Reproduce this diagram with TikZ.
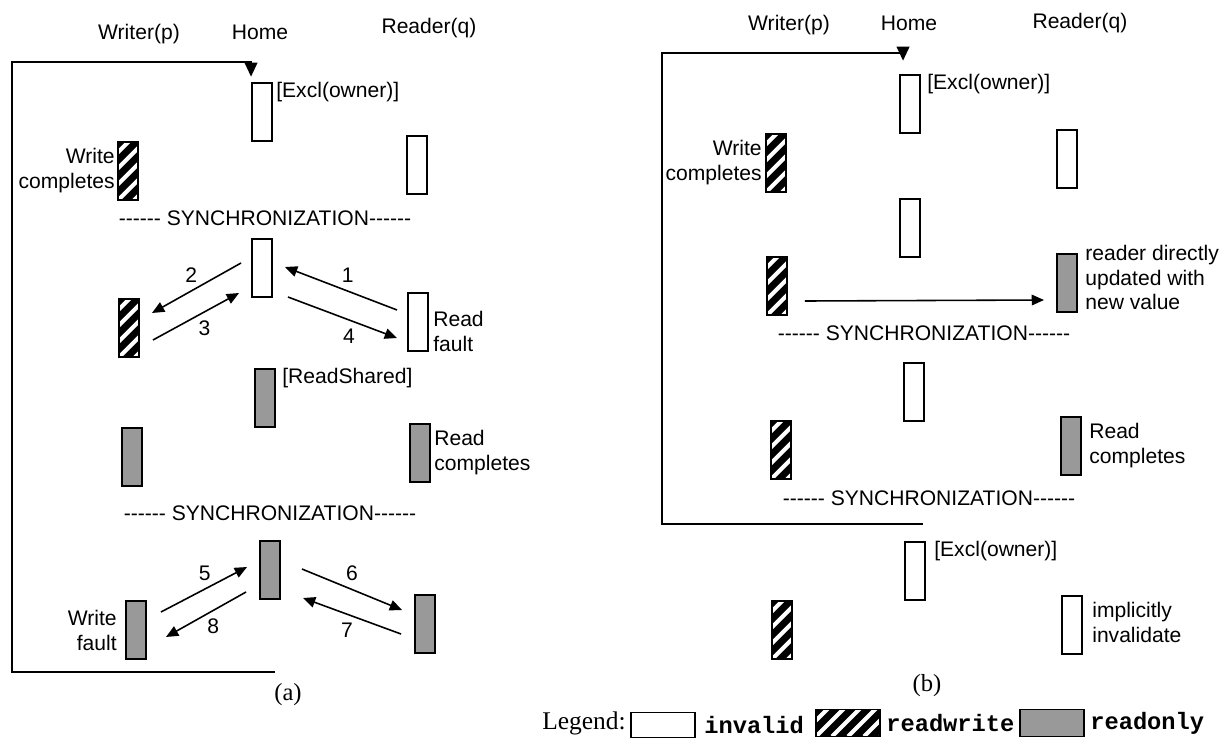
\documentclass[tikz,border=0pt]{standalone}
\usepackage{fontspec}
\setmainfont{Liberation Sans}
\newfontfamily\capfont{Liberation Serif}
\newfontfamily\keyfont{Liberation Mono}
\usetikzlibrary{calc, positioning}
\usetikzlibrary{arrows.meta}

\newcommand\dashrun{\mbox{-}\mbox{-}\mbox{-}\mbox{-}\mbox{-}\mbox{-}}

\tikzset{
  lbl/.style={font=\fontsize{12}{14.2}\selectfont, inner sep=0pt, align=left},
  num/.style={lbl, inner sep=4.5pt},
  cell/.style={draw, line width=1.1pt, inner sep=0pt, minimum width=0.4cm, minimum height=1.17cm},
  inv/.style={cell, fill=white},
  ro/.style={cell, fill=black!40},
  rw/.style={cell, fill=black, path picture={
      \foreach \k in {-8,...,8}
        \draw[white, line width=2.3pt] ([shift={(\k*16,0)}]path picture bounding box.south west) -- ++(60,-60);
    }},
  msg/.style={line width=0.9pt, -{Triangle[length=7pt, width=6pt]}},
  loopback/.style={line width=1.5pt, -{Triangle[length=8pt, width=7pt]}},
  keybox/.style={minimum width=1.28cm, minimum height=0.54cm},
  keytext/.style={font=\keyfont\fontsize{13.5}{15}\bfseries\selectfont, inner sep=0pt},
  caption/.style={font=\capfont\fontsize{14}{16}\selectfont, inner sep=0pt},
}

\begin{document}
\begin{tikzpicture}[x=0.02cm, y=-0.02cm]
\useasboundingbox (0,0) rectangle (1225,738);

% (a)
\node[lbl] (awr) at (139,34) {Writer(p)};
\node[lbl] (aho) at (260,32) {Home};
\node[lbl] (ard) at (429,28) {Reader(q)};

\node[inv] (ah1) at (262,112) {};
\node[rw]  (aw1) at (128,171) {};
\node[inv] (ar1) at (417,165) {};
\node[inv] (ah2) at (262,268) {};
\node[rw]  (aw2) at (129,328) {};
\node[inv] (ar2) at (418,322) {};
\node[ro]  (ah3) at (265,398) {};
\node[ro]  (aw3) at (132,457) {};
\node[ro]  (ar3) at (420,453) {};
\node[ro]  (ah4) at (270,570) {};
\node[ro]  (aw4) at (136,630) {};
\node[ro]  (ar4) at (425,624) {};

\node[lbl, right=0.06cm of ah1.north east, anchor=north west] (aexcl) {[Excl(owner)]};
\node[lbl, align=right, left=0.04cm of aw1] (awc) {Write\\completes};
\node[lbl, right=0.08cm of ar2.east, yshift=-0.18cm] (arf) {Read\\fault};
\node[lbl, right=0.12cm of ah3.north east, anchor=north west] (ars) {[ReadShared]};
\node[lbl, right=0.06cm of ar3] (arc) {Read\\completes};
\node[lbl, align=right, left=0.16cm of aw4] (awf) {Write\\fault};

\node[lbl] (async1) at (265,218) {\dashrun\ SYNCHRONIZATION\dashrun};
\node[lbl] (async2) at (270,513) {\dashrun\ SYNCHRONIZATION\dashrun};

\draw[msg] ([shift={(-10,-12)}]ar2.west) -- node[num, pos=0.44, above] (n1) {1} ([shift={(12,-1)}]ah2.east);
\draw[msg] ([shift={(-10,-5)}]ah2.west) -- node[num, pos=0.56, above] (n2) {2} ([shift={(12,-15)}]aw2.east);
\draw[msg] ([shift={(13,12)}]aw2.east) -- node[num, pos=0.6, below] (n3) {3} ([shift={(-12,25)}]ah2.west);
\draw[msg] ([shift={(15,29)}]ah2.east) -- node[num, pos=0.56, below] (n4) {4} ([shift={(-10,16)}]ar2.west);
\draw[msg] ([shift={(14,-18)}]aw4.east) -- node[num, pos=0.51, above] (n5) {5} ([shift={(-12,-3)}]ah4.west);
\draw[msg] ([shift={(21,-1)}]ah4.east) -- node[num, pos=0.5, above] (n6) {6} ([shift={(-12,-14)}]ar4.west);
\draw[msg] ([shift={(-13,10)}]ar4.west) -- node[num, pos=0.55, below] (n7) {7} ([shift={(22,28)}]ah4.east);
\draw[msg] ([shift={(-13,22)}]ah4.west) -- node[num, pos=0.41, below] (n8) {8} ([shift={(19,7)}]aw4.east);

\coordinate (afoot) at (275,672);
\coordinate (acorner) at (12,62);
\draw[loopback] (afoot) -| (acorner) -| ([shift={(0,-5)}]ah1.north west);

\node[caption] (capa) at (288,695) {(a)};

% (b)
\node[lbl] (bwr) at (789,25) {Writer(p)};
\node[lbl] (bho) at (909,23) {Home};
\node[lbl] (brd) at (1080,23) {Reader(q)};

\node[inv] (bh1) at (910,104) {};
\node[rw]  (bw1) at (776,163) {};
\node[inv] (br1) at (1067,159) {};
\node[inv] (bh2) at (910,228) {};
\node[rw]  (bw2) at (777,286) {};
\node[ro]  (br2) at (1067,283) {};
\node[inv] (bh3) at (914,392) {};
\node[rw]  (bw3) at (781,450) {};
\node[ro]  (br3) at (1071,446) {};
\node[inv] (bh4) at (915,571) {};
\node[rw]  (bw4) at (782,630) {};
\node[inv] (br4) at (1072,625) {};

\node[lbl, right=0.12cm of bh1.north east, anchor=north west] (bexcl1) {[Excl(owner)]};
\node[lbl, align=right, left=0.06cm of bw1] (bwc) {Write\\completes};
\node[lbl, right=0.14cm of br2.east, yshift=0.11cm] (bdir) {reader directly\\updated with\\new value};
\node[lbl, right=0.14cm of br3] (brc) {Read\\completes};
\node[lbl, right=0.16cm of bh4.north east, anchor=north west] (bexcl2) {[Excl(owner)]};
\node[lbl, right=0.18cm of br4.east, yshift=0.06cm] (bimp) {implicitly\\invalidate};

\node[lbl] (bsync1) at (924,333) {\dashrun\ SYNCHRONIZATION\dashrun};
\node[lbl] (bsync2) at (929,498) {\dashrun\ SYNCHRONIZATION\dashrun};

\draw[msg] ([shift={(17,15)}]bw2.east) -- ([shift={(-12,17)}]br2.west);

\coordinate (bfoot) at (923,524);
\coordinate (bcorner) at (662,53);
\draw[loopback] (bfoot) -| (bcorner) -| ([shift={(4,-13)}]bh1.north west);

\node[caption] (capb) at (927,686) {(b)};

% legend
\node[caption, font=\capfont\fontsize{14.5}{16}\selectfont] (lgname) at (584,723) {Legend:};
\node[inv, keybox, minimum height=0.5cm] (lginv) at (663,725) {};
\node[keytext, right=0.16cm of lginv] (lginvt) {invalid};
\node[rw, keybox] (lgrw) at (848,723) {};
\node[keytext, right=0.1cm of lgrw] (lgrwt) {readwrite};
\node[ro, keybox] (lgro) at (1052,723) {};
\node[keytext, right=0.1cm of lgro] (lgrot) {readonly};
\end{tikzpicture}
\end{document}
